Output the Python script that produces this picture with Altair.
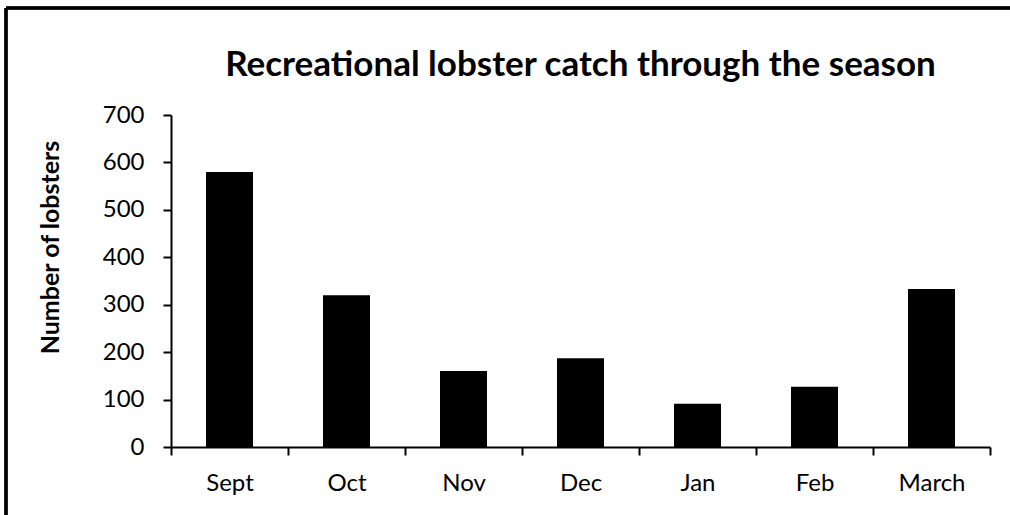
import altair as alt
import pandas as pd

months = ["Sept", "Oct", "Nov", "Dec", "Jan", "Feb", "March"]
catch = [580, 320, 160, 187, 91, 127, 333]
y_ticks = [0, 100, 200, 300, 400, 500, 600, 700]

df = pd.DataFrame({"month": months, "lobsters": catch})

FONT = "Lato"

bars = alt.Chart(df).mark_bar(size=47, color="black").encode(
    x=alt.X(
        "month:N",
        sort=months,
        scale=alt.Scale(paddingInner=0, paddingOuter=0),
        axis=alt.Axis(
            title=None,
            labelAngle=0,
            grid=False,
            tickBand="extent",
            tickSize=8,
            tickWidth=2,
            tickColor="black",
            domainWidth=2,
            domainColor="black",
            labelFont=FONT,
            labelFontSize=24,
            labelColor="black",
            labelPadding=16,
        ),
    ),
    y=alt.Y(
        "lobsters:Q",
        scale=alt.Scale(domain=[0, 700], nice=False),
        axis=alt.Axis(
            title="Number of lobsters",
            values=y_ticks,
            grid=False,
            tickSize=8,
            tickWidth=2,
            tickColor="black",
            domainWidth=2,
            domainColor="black",
            labelFont=FONT,
            labelFontSize=24,
            labelColor="black",
            labelPadding=19,
            titleFont=FONT,
            titleFontSize=25,
            titleFontWeight="bold",
            titleColor="black",
            titleAngle=270,
            titleX=-121,
            titleY=132,
            titleAlign="center",
            titleBaseline="middle",
        ),
    ),
)

border_top = alt.Chart(df).mark_rule(color="black", strokeWidth=2.5).encode(
    x=alt.value(-165), x2=alt.value(900), y=alt.value(-107)
)
border_left = alt.Chart(df).mark_rule(color="black", strokeWidth=2.5).encode(
    x=alt.value(-165), y=alt.value(-107), y2=alt.value(420)
)

chart = (
    alt.layer(bars, border_top, border_left)
    .properties(
        width=819,
        height=332,
        view=alt.ViewBackground(strokeWidth=0, stroke="white"),
        title=alt.TitleParams(
            "Recreational lobster catch through the season",
            font=FONT,
            fontSize=35,
            fontWeight="bold",
            color="black",
            anchor="middle",
            offset=28,
            dy=104,
        ),
        autosize=alt.AutoSizeParams(type="none"),
        padding={"left": 171, "top": 115, "right": 20, "bottom": 68},
    )
    .configure_view(strokeWidth=0, stroke="white")
    .configure(background="white")
)

chart.save("out.html", embed_options={"renderer": "svg", "actions": False})
